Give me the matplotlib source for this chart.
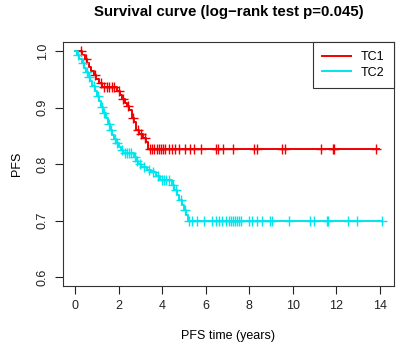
import numpy as np
import matplotlib
matplotlib.use('Agg')
import matplotlib.pyplot as plt

plt.rcParams['font.family'] = ['Liberation Sans', 'DejaVu Sans']

# Kaplan-Meier steps (time, survival after the drop)
tc1_times = [0.3, 0.45, 0.55, 0.65, 0.75, 0.85, 0.95, 1.1, 1.25, 1.95, 2.05, 2.15,
             2.3, 2.4, 2.5, 2.6, 2.7, 2.8, 2.95, 3.1, 3.25, 3.35]
tc1_surv = [0.993, 0.986, 0.979, 0.972, 0.965, 0.958, 0.951, 0.944, 0.937, 0.930, 0.923, 0.916,
            0.909, 0.902, 0.895, 0.881, 0.874, 0.860, 0.853, 0.846, 0.839, 0.826]
tc1_end = 13.95
tc1_censor = [0.25, 0.5, 0.9, 1.2, 1.35, 1.45, 1.55, 1.7, 1.8, 2.0, 2.2, 2.45, 2.65, 2.9,
              3.05, 3.2, 3.45, 3.55, 3.65, 3.75, 3.85, 3.95, 4.05, 4.15, 4.3, 4.45, 4.6,
              4.8, 5.05, 5.3, 5.45, 5.79, 6.5, 6.57, 6.78, 7.24, 8.21, 8.35, 9.5, 9.66,
              11.32, 11.85, 11.9, 13.85]

tc2_times = [0.1, 0.2, 0.3, 0.4, 0.5, 0.6, 0.7, 0.8, 0.9, 1.0, 1.1, 1.2, 1.3, 1.4, 1.5,
             1.6, 1.7, 1.8, 1.9, 2.0, 2.1, 2.2, 2.7, 2.8, 2.9, 3.05, 3.3, 3.5, 3.7, 3.9,
             4.45, 4.55, 4.7, 4.8, 4.9, 5.0, 5.1, 5.2]
tc2_surv = [0.993, 0.986, 0.979, 0.971, 0.963, 0.955, 0.947, 0.938, 0.929, 0.920, 0.911,
            0.901, 0.891, 0.881, 0.871, 0.861, 0.852, 0.844, 0.837, 0.830, 0.825, 0.820,
            0.813, 0.806, 0.800, 0.795, 0.790, 0.786, 0.779, 0.772, 0.763, 0.754, 0.745,
            0.736, 0.727, 0.718, 0.709, 0.700]
tc2_end = 14.1
tc2_censor = [0.15, 0.35, 0.55, 0.65, 0.85, 1.05, 1.25, 1.35, 1.55, 1.65, 1.85, 1.95, 2.15,
              2.3, 2.4, 2.5, 2.55, 2.75, 2.85, 3.0, 3.15, 3.4, 3.6, 3.8, 4.0, 4.1, 4.2, 4.3,
              4.5, 4.65, 4.85, 5.05, 5.25, 5.39, 5.62, 5.94, 6.31, 6.49, 6.63, 6.77, 6.96,
              7.09, 7.19, 7.28, 7.37, 7.46, 7.55, 7.64, 8.0, 8.15, 8.38, 8.57, 8.94, 9.03,
              9.81, 10.78, 10.96, 11.56, 11.61, 12.53, 12.94, 14.1]

groups = ['TC1', 'TC2']
colors = ['#f00000', '#00e5ee']


def km_curve(times, surv, end):
    t = np.concatenate([[0.0], times, [end]])
    s = np.concatenate([[1.0], surv, [surv[-1]]])
    return t, s


def surv_at(t, times, surv):
    idx = np.searchsorted(times, t, side='right')
    return 1.0 if idx == 0 else surv[idx - 1]


fig = plt.figure(figsize=(3.98, 3.51), dpi=100)
ax = fig.add_axes([0.158, 0.185, 0.832, 0.695])

data = [(tc1_times, tc1_surv, tc1_end, tc1_censor),
        (tc2_times, tc2_surv, tc2_end, tc2_censor)]
for (times, surv, end, cens), name, col in zip(data, groups, colors):
    t, s = km_curve(times, surv, end)
    ax.step(t, s, where='post', color=col, lw=1.4, label=name)
    cy = [surv_at(c, times, surv) for c in cens]
    ax.plot(cens, cy, ls='none', marker='+', ms=7, mew=1.0, color=col)

ax.set_xlim(-0.56, 14.66)
ax.set_ylim(0.584, 1.016)
ax.set_xticks(range(0, 15, 2))
ax.set_yticks([0.6, 0.7, 0.8, 0.9, 1.0])
ax.set_yticklabels(['0.6', '0.7', '0.8', '0.9', '1.0'], rotation=90, va='center')
ax.tick_params(direction='out', length=6, width=0.8, labelsize=9, colors='#222222', pad=4)
for sp in ax.spines.values():
    sp.set_color('#333333')
    sp.set_linewidth(0.8)

ax.set_xlabel('PFS time (years)', fontsize=9, labelpad=13)
ax.set_ylabel('PFS', fontsize=9, labelpad=10)
ax.set_title('Survival curve (log\u2212rank test p=0.045)', fontsize=10.8, fontweight='bold', pad=19)

leg = ax.legend(loc='upper right', borderaxespad=0, fancybox=False, framealpha=1,
                edgecolor='#333333', fontsize=9, handlelength=2.3, handletextpad=0.8,
                borderpad=0.75, labelspacing=0.25)
leg.get_frame().set_linewidth(0.8)

fig.savefig('out.png', dpi=100)
